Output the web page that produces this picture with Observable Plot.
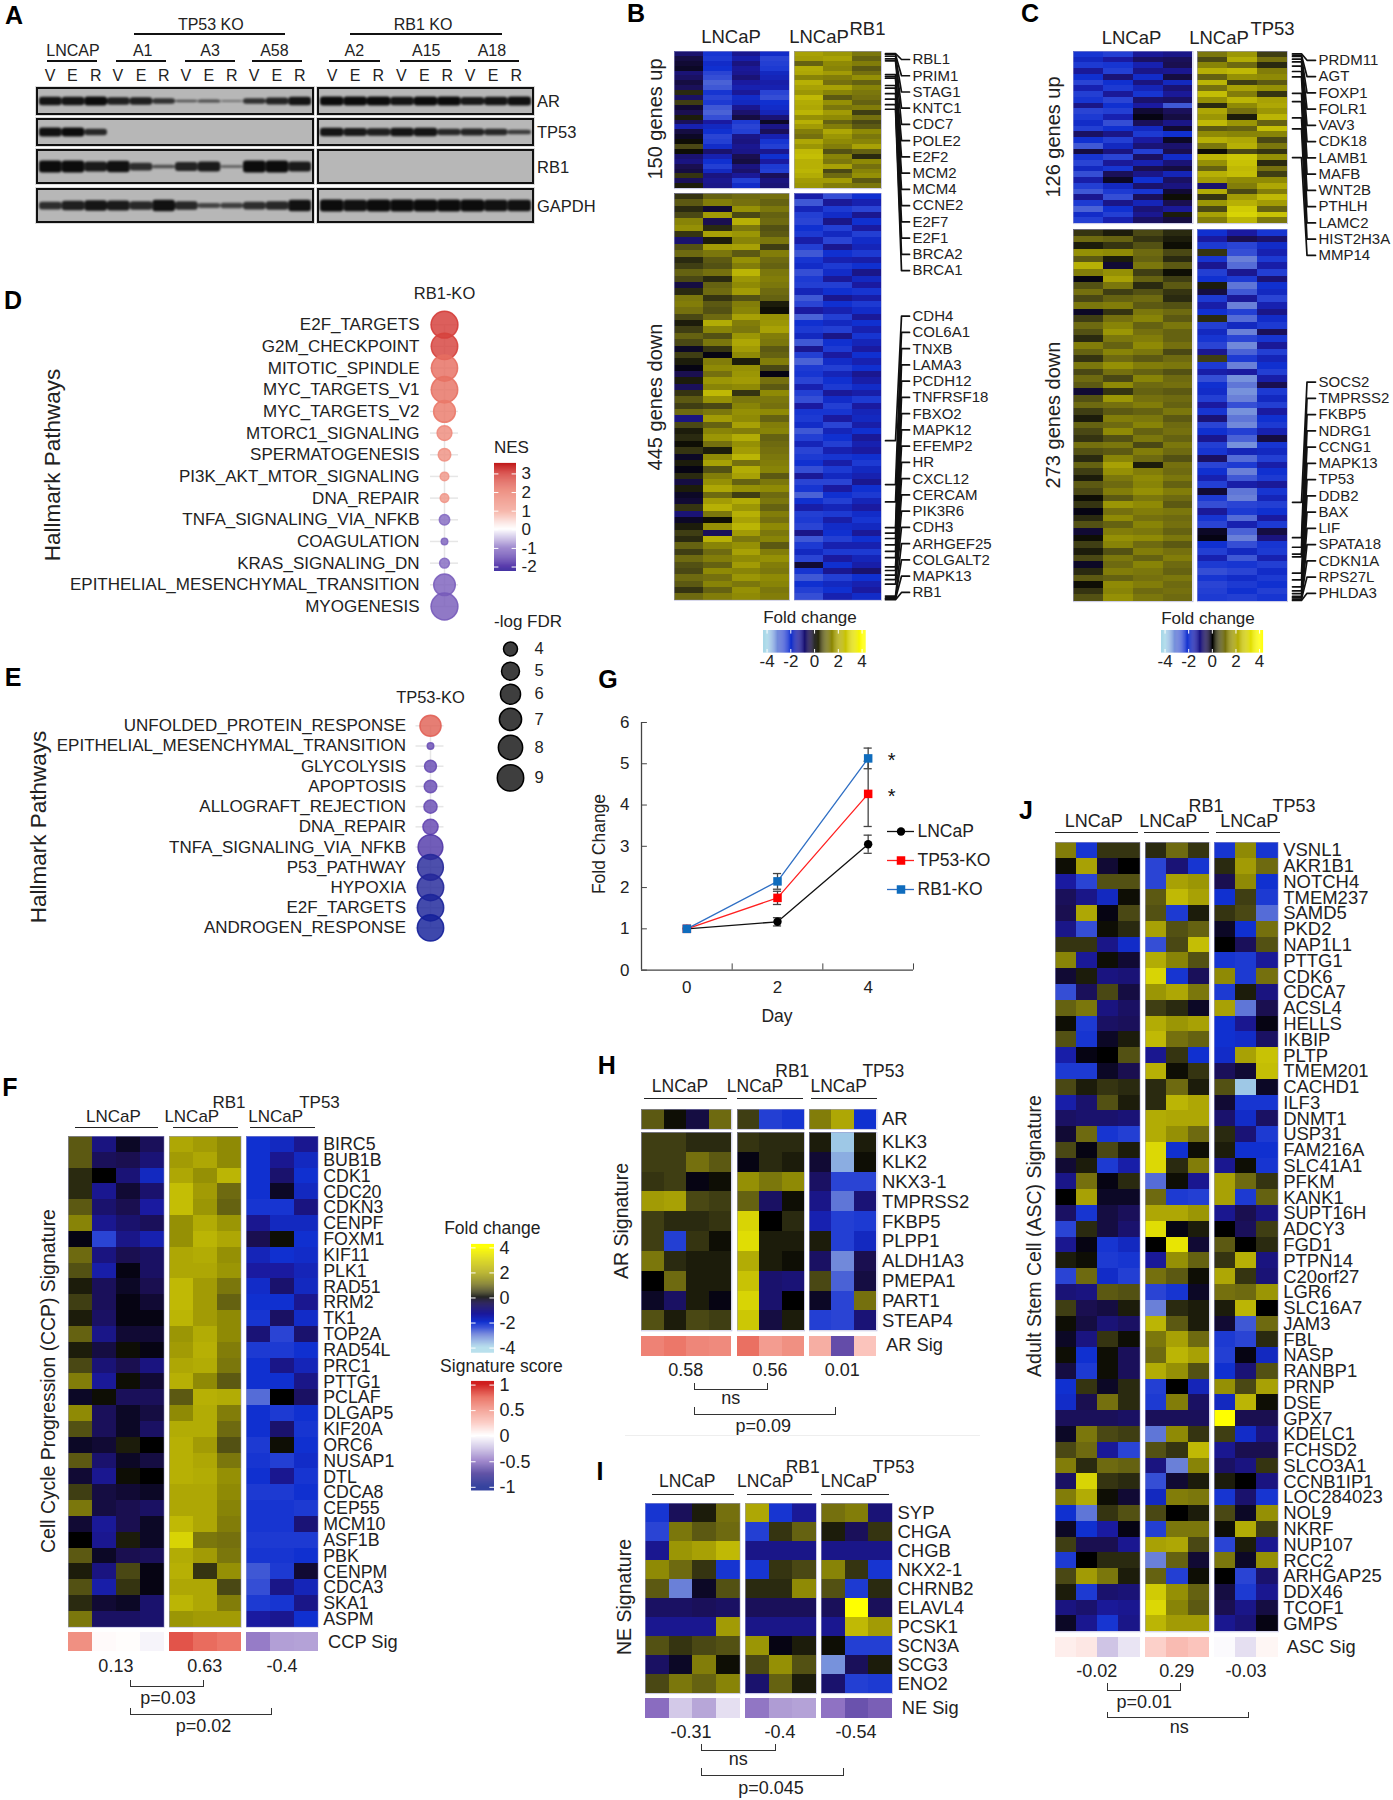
<!DOCTYPE html>
<html><head><meta charset="utf-8">
<style>html,body{margin:0;padding:0;background:#fff}#page{position:relative;width:1393px;height:1800px;overflow:hidden;background:#fff;font-family:"Liberation Sans",Arial,sans-serif}</style>
<script src="https://cdn.jsdelivr.net/npm/d3@7"></script>
<script src="https://cdn.jsdelivr.net/npm/@observablehq/plot@0.6"></script>
</head><body><div id="page"></div>
<script>
/* ---------- DATA ---------- */
const blotAR_L=[.9,.9,1,.8,.8,.6,.25,.35,.15,.6,.75,.9];
const blotAR_R=[1,1,1,.9,1,1,.85,.9,.95];
const blotTP53_L=[.95,1,.7,0,0,0,0,0,0,0,0,0];
const blotTP53_R=[.9,.85,.8,.9,.9,.7,.75,.7,.5];
const blotRB1_L=[1,1,.85,.95,.65,.3,.75,.85,.2,1,1,.85];
const blotRB1_R=[0,0,0,0,0,0,0,0,0];
const blotGAPDH_L=[.65,.8,.9,.85,.7,.95,.7,.4,.45,.65,.7,.95];
const blotGAPDH_R=[1,.95,1,1,1,1,1,.95,.95];

const dPathways=["E2F_TARGETS","G2M_CHECKPOINT","MITOTIC_SPINDLE","MYC_TARGETS_V1","MYC_TARGETS_V2","MTORC1_SIGNALING","SPERMATOGENESIS","PI3K_AKT_MTOR_SIGNALING","DNA_REPAIR","TNFA_SIGNALING_VIA_NFKB","COAGULATION","KRAS_SIGNALING_DN","EPITHELIAL_MESENCHYMAL_TRANSITION","MYOGENESIS"];
const dNES=[3,2.9,2.2,2.15,2,1.7,1.6,1.5,1.5,-1.1,-1.2,-1.1,-1.3,-1.4];
const dFDR=[9.2,9,8.9,9,6.8,4.2,3.5,2.2,2.2,2.8,1.5,2.6,6.7,9.2];
const ePathways=["UNFOLDED_PROTEIN_RESPONSE","EPITHELIAL_MESENCHYMAL_TRANSITION","GLYCOLYSIS","APOPTOSIS","ALLOGRAFT_REJECTION","DNA_REPAIR","TNFA_SIGNALING_VIA_NFKB","P53_PATHWAY","HYPOXIA","E2F_TARGETS","ANDROGEN_RESPONSE"];
const eNES=[2.4,-1.6,-1.7,-1.7,-1.7,-1.8,-2.1,-2.7,-2.8,-3,-3.2];
const eFDR=[6.5,1.5,3.3,3.5,3.7,4.3,8.2,8.7,9,9,9];

const gDays=[0,2,4];
const gLNCaP=[1,1.17,3.05], gLNCaPErr=[0,.1,.22];
const gTP53=[1,1.75,4.27], gTP53Err=[0,.16,.79];
const gRB1=[1,2.15,5.13], gRB1Err=[0,.19,.25];

const fGenes=["BIRC5","BUB1B","CDK1","CDC20","CDKN3","CENPF","FOXM1","KIF11","PLK1","RAD51","RRM2","TK1","TOP2A","RAD54L","PRC1","PTTG1","PCLAF","DLGAP5","KIF20A","ORC6","NUSAP1","DTL","CDCA8","CEP55","MCM10","ASF1B","PBK","CENPM","CDCA3","SKA1","ASPM"];
const fValues=[
[.8,-1,-.2,-.6,2,1.8,1.5,-2,-1.8,-1.2],[.8,-.6,-.5,-.9,1.8,2,1.5,-2,-1.2,-1.8],[.3,0,-.9,-1.8,2,1.6,2.3,-2,-.8,-2],[.3,-1.2,-.3,-.8,2.5,1.8,1,-2,-.2,-1.8],[.8,-.8,-.5,-1.4,2.5,1.7,.9,-2.1,-2.1,-1],
[1.4,-1.2,-.8,-.6,1.6,2.1,1.7,-1.2,-1.8,-1.8],[-.1,-2.4,-1.1,-1.6,1.6,2.3,2,-.5,.1,-2],[1,-1,-.5,-.7,2,2.1,1.6,-1.7,-2,-1.9],[.7,-1.5,-.1,-.7,2,2,1.7,-1.4,-1.4,-1.7],[.2,-.6,-.2,-.5,2.4,1.8,1.2,-1.9,-.8,-1.8],
[.5,-.6,-.1,-.3,2.4,1.8,.9,-2,-2,-1.2],[.2,-.7,-.1,-.1,2.3,1.8,1.5,-2.1,-.7,-1.9],[.9,-1.1,-.3,-.3,1.7,2.1,1.5,-.9,-2.4,-.8],[.2,-.4,.1,-.1,1.8,2.2,1.3,-2.2,-2.2,-2],[.6,-.9,-.5,-1,2,2.1,1.2,-2,-1.1,-1.7],
[1.3,-1.3,.1,-.3,2.2,1.5,.8,-2,-2,-1.1],[-.2,.1,-.6,-.6,.8,2.2,2.1,-2.8,0,-.7],[1.5,-.6,-.2,-.4,1.5,2.1,1.3,-2,-2.2,-2],[.7,-.6,-.2,-.7,2.1,2.1,1,-2,-.8,-2.1],[-.2,-.3,.2,0,2.2,1.8,.7,-2.2,.1,-2],
[.8,-.8,-.2,-.4,2.2,2,1.2,-2.1,-2.3,-1.9],[-.3,-1.2,.1,0,2.2,2.1,1.6,-2,-1.2,-2.1],[.5,-.4,-.3,-.2,2,2,1.5,-2.2,-2.2,-2],[1.2,-.4,-.5,-.7,2,2,1.4,-2.1,-2.1,-2.2],[-.3,-1.3,-.5,-.2,2.4,2,1.3,-2.1,-2.1,-.9],
[0,-1.2,.2,-.2,3,1.2,1.1,-2.2,-2.2,-2.2],[.8,-.2,-.5,-.6,2.1,1.8,1.2,-2.1,-2.1,-2],[.2,-1,.6,-.1,2.2,.4,1.6,-2.6,-2.2,-.3],[.7,-1.5,.4,-.1,2,2,.6,-2.5,-1.1,-1.7],[.3,-.3,-.2,-.8,2.3,2,1.3,-2.2,-2.1,-1.1],
[1.2,-.7,-.7,-.8,1.7,1.8,1.8,-1.4,-1.2,-2]];
const fSig=[.55,.02,.01,-.04,.82,.74,.68,-.45,-.34,-.33];

const hGenes=["AR","KLK3","KLK2","NKX3-1","TMPRSS2","FKBP5","PLPP1","ALDH1A3","PMEPA1","PART1","STEAP4"];
const hValues=[
[.8,.1,-.4,1,.5,-2.3,-2.1,1.3,2,-2],
[.5,.5,.3,.3,.4,.3,.3,.2,-3.8,.2],[.5,.5,1.1,.8,-.1,.3,.2,-.3,-3.5,.1],[.4,.5,-.1,.1,1.6,1.2,1.5,-.7,-2.4,-2.4],[1.8,1.9,.6,.5,.9,-.7,.1,-1.1,-2.9,-.9],[.5,.3,.3,.4,3,0,.3,-1.6,-2.3,-2.2],
[.5,-2.3,.4,.1,3.2,.2,.2,.2,-2.3,-1.8],[1.2,.3,.2,.2,2.1,.2,.1,-.7,-3.1,-.5],[0,1,.2,.2,2.6,-.8,-.9,.6,-2.7,-.4],[-.2,-.7,.2,-.1,3,-.8,0,-.2,-2.4,1.1],[.7,.2,.6,.5,2.7,-.4,.2,-2.3,-2.4,-.9]];
const hSig=[.62,.68,.6,.58,.72,.48,.55,.38,-.62,.25];

const iGenes=["SYP","CHGA","CHGB","NKX2-1","CHRNB2","ELAVL4","PCSK1","SCN3A","SCG3","ENO2"];
const iValues=[
[-2.1,-.6,.2,1.1,2,-2.1,-1.3,1.1,1.3,-.9],[-2.4,1.2,.8,1,-2.3,.4,.9,.2,-.6,.4],[-1.2,1.7,1.9,2.4,-1.1,-1.1,-1.1,-1.1,-1.1,-1.1],[1.5,1,.4,-2.1,-2.1,.4,.6,1.4,.4,-2.1],[.8,-3,-.2,.7,.3,.3,1.5,.7,-2.2,.3],
[-.7,-.7,-.6,-.7,-.6,-.6,-.6,-.6,4,-.6],[-1.2,-1.2,-1.2,1.8,-1.1,-1.1,-1.1,-1.2,2.4,1.8],[.7,.4,.6,.7,1.7,-.1,.2,.1,-2.3,-2.3],[-.7,-.2,1.3,.1,.6,1.6,.7,-3.2,-.6,.2],[.6,1.2,.9,1.4,-.8,.9,.2,-.8,-2.3,-2.2]];
const iSig=[-.5,-.2,-.32,-.12,-.47,-.35,-.33,-.48,-.6,-.55];

const jGenes=["VSNL1","AKR1B1","NOTCH4","TMEM237","SAMD5","PKD2","NAP1L1","PTTG1","CDK6","CDCA7","ACSL4","HELLS","IKBIP","PLTP","TMEM201","CACHD1","ILF3","DNMT1","USP31","FAM216A","SLC41A1","PFKM","KANK1","SUPT16H","ADCY3","FGD1","PTPN14","C20orf27","LGR6","SLC16A7","JAM3","FBL","NASP","RANBP1","PRNP","DSE","GPX7","KDELC1","FCHSD2","SLCO3A1","CCNB1IP1","LOC284023","NOL9","NKRF","NUP107","RCC2","ARHGAP25","DDX46","TCOF1","GMPS"];
const jValues=[
[1.3,-2.1,.4,.4,.3,1,.4,-2.1,1.5,-2.1],[.1,1.9,-.3,0,-2.4,-.9,-2.1,.3,1.8,1],[-1.4,-2.4,.7,.7,-2.4,1.9,1.7,-.5,1.5,-2],[-.6,-1.1,-1.8,.1,.8,2.4,1.9,-2,.5,-2.2],[-.5,2,-.1,.6,.7,-2.2,.2,.4,.6,-2.8],
[-1.1,-2.5,.1,.3,1.9,.7,.9,-.2,-2,1.1],[.4,.4,-1.1,-1.9,-2.5,.6,2.5,0,-.6,.7],[1.4,-1.3,.1,-.3,2.1,1.4,.7,-2.1,-2.2,-1.3],[-.3,.2,-1,-.9,3,-2.1,-.6,1.5,-2.2,1.1],[-2.5,-.6,.6,-.4,1.7,2,1.2,-2.2,.2,-1],
[.9,1.2,-1,-.7,.5,.3,-.2,1.9,-2.9,-.5],[.1,-2.2,-.7,-.6,2.1,1.7,1.9,-2,-1.2,-.1],[.7,-2.1,-.2,.2,2.4,1.1,.9,-2,-1.9,-.7],[-1.5,-.1,0,.7,-1.2,.4,-2,-1.9,1.9,2.6],[-2.2,-2.2,-.2,-.5,2.2,.1,.4,-.6,-.3,2.5],
[.6,.2,.4,.3,.3,1,.2,.7,-3.8,-.2],[-1.5,-.8,.7,.2,.3,2.3,2,-.3,-2.1,-2.1],[-.7,-.8,-.8,-.9,2.1,2,2,-.8,-1.9,-.7],[-.3,1,-2.1,-2.3,2.1,1.6,1,.3,-.9,-2.2],[.6,-.1,.6,.2,3.1,-2,.1,.2,-2,-2],
[-.3,.2,-2.2,-1.5,3.1,.3,1.3,-1.2,.1,-2.1],[-1.1,1.1,-.1,.3,-2.8,.1,-1.2,1.9,1,.4],[0,1.9,-.2,-.2,1,-2.2,-2.3,1.9,-2.2,.9],[-.7,-2.1,-.4,-.6,2,2,1.7,-1.2,-.5,-1],[-2.4,.3,-.4,-.8,3.2,-.1,.2,0,-.6,.5],
[-1.2,-.1,-2.1,-1.8,0,3.4,-.3,.8,0,.3],[.2,.1,-2.2,-2.1,-1.3,1.6,.9,.4,2.2,-1],[-2.4,1,-1.9,-2.3,1.1,.8,.1,2,.4,-.9],[-.9,-1,.8,.7,-2.4,-2.1,-.2,1.1,1,1.7],[.5,-.5,-.4,.2,-3,.3,.2,.2,2.3,0],
[.1,-.4,-.9,-.7,2.3,.8,.2,-.3,-2.6,1],[-.2,-1,.4,.1,1.2,1.9,1,-2.2,-2.4,.3],[.1,-2,.1,-.6,1,2.3,1.9,-2.3,-.1,-1.8],[-.4,-2.2,.1,-.6,2.1,1.6,.7,-2,-.9,.7],[-2,.4,-.2,.3,-2.3,0,-1.7,1.6,.6,1.9],
[-1.9,-.5,1.1,.3,-2.2,1.3,-.7,-1.8,2.3,.1],[-.6,-.6,-.6,-.7,-.6,-.6,-.6,4,-.5,-.5],[-.2,1.2,.6,.5,-2.9,1.5,.4,.5,-1.9,-1],[.6,1,-1.3,-2.4,.7,.4,2.4,-1.2,-.5,-.5],[1.3,.3,1,.9,-1,-3,1.4,-.7,-1,.4],
[-.7,3,.4,.3,-2.5,-.3,.2,.2,0,-1],[1.3,2.1,.1,-.3,-1.8,1.3,1.2,-2.1,-.8,-2.1],[-2,-2.9,.4,.7,.6,0,.2,.6,-.2,1.6],[-.2,-2,-1.4,-.1,-2.3,1.2,1.2,.1,2.1,.5],[.5,-.5,-.5,-1.2,1.9,2,.6,-2.4,.2,-1.2],
[-2.2,0,.3,.3,-3,.9,-.3,1.2,-.2,1.6],[.6,1.8,1.2,.2,.9,-2.3,.1,0,-2.4,-.8],[.2,-2.2,-.8,-.9,2.8,1.6,.9,-.4,-2.2,-1.2],[-1,-.8,-1.3,-1.2,3.1,1.4,.8,-.5,-1.1,-.4],[-.2,-1.2,-2.1,-1.1,2.3,1.8,1.8,-1.2,-.9,-.1]];
const jSig=[.07,.1,-.22,-.1,.2,.3,.25,-.02,-.12,.04];

const bUp=[
[-.8,-2.1,-1.2,-1.9,1.9,1.7,1.2],[-.4,-2.2,-1.5,-2.4,1.8,1.9,.9],[-.3,-1.9,-1,-2.3,.9,1.5,1.3],[-.2,-2,-1.3,-2.2,2.1,1.4,.8],[-.9,-2.4,-1.2,-1.8,2,1.8,1.1],[-.7,-2.5,-.9,-1.7,1.4,1.3,1.6],[-.4,-2.7,-1.4,-1.5,2.2,1.1,.9],
[-.6,-2.6,-1.6,-1.6,1.9,1.9,1.4],[.3,-2.1,-1.3,-2.4,1.7,1.4,1.2],[-.7,-2.4,-1.9,-2.5,2.4,.8,1.1],[.5,-2.2,-1.8,-2,2.1,1.6,.9],[-.3,-2.6,-1.2,-1.9,2,1.2,1.3],[-.5,-2.7,-.8,-1.7,2.3,1.8,.5],[.2,-2.5,-.4,-.9,1.6,1.5,1.1],
[-.6,-1.4,-2.2,-.2,2.2,.9,.6],[-1.6,-1.8,-2.4,-1.1,1.8,1.3,.8],[-.4,-2,-2.3,-.6,1.3,2,1.5],[-.2,-2.4,-1.1,-1.6,1.1,1.7,1.2],[.1,-2.3,-1,-2.1,2,1.5,1.4],[.6,-1.9,-1.2,-2.3,1.7,1.3,1.9],[.1,-.8,-1.1,-1.2,2.4,.7,.9],
[-.8,-1.6,-.5,-2,2.5,1.4,.3],[-1,-2,-.4,-1.4,2.2,1.2,1.5],[-.5,-2.3,-1,-2.2,2.2,1.9,1.1],[-.4,-1.8,-.8,-2.3,2.3,.6,1.4],[.4,-1,-1.3,-.6,2.1,1,1.6],[-.6,-1.2,-2.3,-1,1.8,1.8,.8],[.2,-1.1,-1.9,-.9,1.7,1.3,1.2]];
const bDown=[
[.4,.9,1,1.1,-1.5,-2.5,-2],[.8,1.3,1.1,.9,-2.6,-1.3,-1.6],[.3,-.3,1.6,1.2,-1.7,-2.2,-2.4],[.6,1.8,.6,.9,-2.3,-1.9,-1.2],[1.4,-.5,2.2,1,-2.4,-1.1,-2],[1.6,.3,1.2,.7,-2,-2.3,-1.4],[.4,1.9,1.7,.8,-2.2,-1.8,-2.3],
[-.8,.2,1.4,1.2,-1.5,-2.4,-1.9],[.7,1.8,1.9,.5,-2.3,-1.2,-1.7],[1,1.2,.8,1.3,-2.6,-2,-2.2],[.3,.8,1.6,1,-2.1,-1.6,-1.5],[.5,.7,1.3,.9,-1.9,-2.2,-2],[.9,1.1,2.3,1.2,-2.5,-1.9,-1.1],[.6,.3,1.7,1.3,-2.2,-1.3,-1.8],
[-.4,.9,1.5,1.2,-2.3,-2.3,-1.4],[.3,1,1.8,1,-1.7,-2,-2.1],[1.2,.4,.7,.9,-2.6,-1.2,-1.5],[1.3,.8,1.3,.2,-2.4,-2,-2.2],[1.1,.7,1.4,.1,-1.4,-1.6,-1.9],[.6,1,1.9,1.6,-2.7,-2.3,-1.3],[.2,2.1,1.3,1.7,-2,-1.8,-2],
[.5,1.4,1.2,1.9,-2.2,-2.3,-1.6],[.9,.7,1.7,1.3,-1.8,-1.1,-2.1],[.6,1.2,2,1.2,-2.6,-2,-1.7],[-.2,.4,1.8,.8,-1.2,-2.2,-1.4],[.5,-.1,1.5,.9,-2.3,-1.4,-2],[.2,1.3,.2,1.3,-2.7,-1.9,-1.6],[-.1,1.5,1.6,.6,-2.2,-2.3,-2],
[-.5,1.1,1.7,-.1,-2.1,-1.7,-1.2],[.2,1.7,1.8,1.1,-2.4,-2,-1.5],[-.6,1.4,1.5,.8,-1.6,-2.2,-1.9],[.4,2.4,.4,1.5,-2.3,-1.3,-1.5],[.8,1.6,1.2,1.2,-2.5,-1.9,-2.2],[.5,.6,1.4,1.1,-1.4,-2.3,-1.4],[1,1.2,1.6,1.5,-2.1,-2.1,-1.7],
[-1,1.8,1.5,.9,-2.2,-1.4,-1.8],[.6,.9,1.9,1.3,-1.9,-2.4,-1.5],[.2,1.4,1.3,1.4,-2.6,-1.7,-2],[.3,1.7,2.1,.9,-2.3,-2,-1.3],[.1,1.1,1.6,1,-1.7,-2.3,-1.6],[.4,.2,1.8,1.1,-2.4,-1.6,-1.4],[-.2,1.5,2.3,1.2,-2.2,-2.1,-2],
[.2,1.9,1.1,1.3,-2,-1.5,-2.2],[-.1,.7,2.1,1.4,-2.5,-2.2,-1.8],[.3,1.3,1.9,.8,-1.3,-1.8,-1.6],[-.4,1.6,.9,1.2,-2.4,-2.4,-1.2],[.2,2,1.6,1.5,-2.1,-1.4,-2],[-.2,1,.5,1,-2.7,-2,-2.2],[-.3,1.8,2.1,1.2,-2,-2.3,-1.7],
[.4,2.2,1.7,.9,-1.5,-1.7,-1.4],[-.9,1.2,2.2,1.3,-2.3,-2.2,-1.9],[-.2,.1,1.9,1.1,-2.2,-1.5,-2.1],[.2,1.6,2.3,1.5,-2.4,-1.9,-1.8],[.5,-.6,1.8,1.2,-1.1,-2,-1.3],[.3,2.2,1.2,1.4,-2.6,-2.3,-2],[.9,1.4,1.6,.8,-2.2,-1.6,-1.6],
[.5,1,1.9,1.3,-1.8,-2.2,-2.2],[1,1.3,1.5,1.6,-2.4,-1.4,-1.7],[.7,.9,1.8,1.3,-.3,-2,-1.5],[.6,1.5,1.4,1.2,-2.1,-1.2,-.8],[1,1.1,1.7,1.5,-2.6,-2.3,-2],[.8,1.4,1.2,1.4,-2,-1.8,-1.6],[.4,.9,1.6,1.2,-2.3,-2,-1.4],[1,1.3,1.5,1.3,-2.5,-1.6,-1.9]];
const cUp=[
[-2.1,-2.3,-1.3,-1.1,1.2,1.7,.5],[-1.8,-1.4,-.7,-.6,.6,2.1,1.1],[-2.2,-2.1,-1.6,-.5,1.4,1,.3],[-1.3,-2.3,-1.1,-1.2,2.2,2.4,1.3],[-2,-.9,-1.9,-.4,.9,1.6,1.5],[-2.4,-2,-1,-1.8,2.3,.5,.8],[-1.6,-2.2,-1.7,-.9,1.1,1.9,1.6],
[-2.3,-1.3,-2.1,-1.3,2.5,1.3,.4],[-2.1,-2.4,-.8,-.7,1.6,2.3,1.9],[-1.1,-2,-1.4,-2.6,.3,1.5,2],[-2.4,-2.3,-.3,-.6,2,1.1,1.7],[-2.2,-1.6,-.1,-.4,1.7,.2,2.3],[-1.9,-2.5,-.6,-1.1,2.4,1.7,.9],[-2.3,-2,-1.8,-.3,.8,.9,2.5],
[-.7,-1.1,-2.2,-2,1.5,1.4,1.4],[-2,-2.3,-1.4,-.2,2.2,2,.6],[-2.6,-1.8,-.9,-.8,1.2,2.2,1.2],[-.4,-1,-2.3,-.5,.1,.6,.4],[-2.1,-2.4,-.7,-1.9,2.3,2.7,1.6],[-2.4,-1.3,-1.6,-.9,1.6,2.6,.3],[-1.8,-2.1,-.5,-.4,.9,2.4,1.1],
[-2.5,-.6,-1.1,-1.7,2.2,2.5,.5],[-1.5,-.2,-2,-.7,1.8,1.5,1.5],[-2.3,-1.8,-.8,-1,-.8,1.3,2],[-2.6,-2.2,-2.1,-.3,2.1,.6,1.3],[-1.2,-2.5,-.6,.1,.4,1.8,2.4],[-2.2,-1.1,-1.7,-.5,1.7,2.2,1.8],[-2.7,-2,-.9,-1.3,.6,2.8,.9],[-1.9,-2.3,-1.2,.2,1.9,3,2.6],[-2.3,-1.6,-.7,-.4,1.3,2.3,1.2]];
const cDown=[
[.4,.2,.6,.3,-2,-1.4,-2.1],[1,.9,.4,.2,-1.4,-.5,-.8],[.2,.4,.7,.1,-2.2,-2.4,-1.9],[1.6,1.5,1,.6,.4,-2.5,-1.6],[.8,.2,.9,.3,-2.1,-3,-2.2],[2.2,-.3,1.2,.8,-1.2,-2.8,-1.5],[1.3,1.6,.5,.1,-2.3,-1.2,-2.3],
[-.1,1.9,.9,.5,-2,-2.2,-.9],[.7,1.2,.3,.8,.2,-2.9,-2],[1.1,.5,.7,.4,-.4,-2.6,-1.8],[.6,.9,1,.3,-2.2,-1.3,-2.4],[1.2,1.3,.8,.7,-1.5,-3,-1.6],[-.2,.4,1.2,1,-2,-2.3,-1.1],[.5,1.1,1.4,.8,.3,-2.8,-1.9],
[1,1.4,.9,1.2,-2.3,-1.8,-2.2],[.7,1.7,1.1,.9,-1.8,-3,-.6],[.3,1.2,1.3,.9,-2.1,-2.4,-2.1],[1.3,.9,1.5,1.1,-2.4,-3.1,-1.3],[.9,1.4,1.2,.6,-1.2,-2.7,-2.3],[.4,1,.8,1,.5,-2.2,-1.7],[1.2,1.6,1.3,1.2,-2.2,-3,-2],
[.6,1.1,.9,.7,-1.5,-1.4,-2.3],[1,.6,1.4,1,-2.5,-3.2,-1.5],[.8,1.5,1,1.1,-2,-2.9,-.5],[-.3,.4,.9,.8,-1.9,-3.2,-2.2],[.7,1.7,1.1,1,-2.3,-3,-1.8],[1,1.1,1.3,.9,-1.4,-2.5,-2.3],[.5,.8,.9,1.2,-2.1,-3.2,-1.4],
[.2,1.3,1.2,.8,-.9,-2.9,-2],[.9,1,1.4,1,-2.4,-3.1,-2.2],[.6,1.5,.9,1.1,-2,-2.3,-1.6],[.4,.7,1.2,.9,-1.2,-2.7,-.4],[1.1,1.2,.6,1.2,-2.3,-3.2,-2.1],[.7,.8,1.3,1,-2.1,-1.7,-1.8],[.3,1.4,1,.7,-.7,-2.8,-2.3],
[.9,1.9,.2,1.1,-2.4,-2.2,-1.5],[.5,1.6,1.3,1,-2,-3,-2],[.2,1.2,1.5,1.2,-1.6,-2.6,-2.2],[.8,1,1.4,.9,-2.3,-1.5,-1.3],[.6,1.3,1.6,1.3,-.3,-2.9,-2.1],[.1,.8,1.2,1,-2.2,-3,-1.7],[.4,1.7,1.5,.8,-2.5,-2.4,-2.3],
[-.1,1.1,1.3,1.2,-1.3,-2.2,-2],[.3,1.5,1.1,1,-2.1,-2.8,-1.4],[.7,.9,1.4,1.1,-2.4,-1.6,-2.2],[-.3,1.3,1.2,.9,-.2,-2.7,-.4],[.1,1.6,1.5,1.2,-.1,-3,-1],[.5,1.4,1,.8,-2,-2.5,-2.1],[.2,.7,1.3,1.1,-2.3,-1.8,-2.2],
[.6,1.2,.9,1.3,-1.6,-2.6,-1.6],[-.2,1,1.4,1,-2.2,-2.1,-2.3],[.3,1.3,1.2,.9,-2.5,-2.4,-1.9],[.8,.9,1.1,1.2,-2.1,-1.9,-2.2],[.1,1.5,1.3,1,-2.4,-2.2,-2],[.4,1.4,1,1.1,-2.3,-2,-2.3],[.7,1.6,1.2,1,-2.2,-2.3,-2.1]];

const bUpGenes=["RBL1","PRIM1","STAG1","KNTC1","CDC7","POLE2","E2F2","MCM2","MCM4","CCNE2","E2F7","E2F1","BRCA2","BRCA1"];
const bUpRows=[2,3,5,8,10,25,27,29,37,40,46,52,58,63];
const bDownGenes=["CDH4","COL6A1","TNXB","LAMA3","PCDH12","TNFRSF18","FBXO2","MAPK12","EFEMP2","HR","CXCL12","CERCAM","PIK3R6","CDH3","ARHGEF25","COLGALT2","MAPK13","RB1"];
const bDownRows=[270,318,337,365,371,377,384,391,398,408,412,417,422,427,440,442,443,444];
const cUpGenes=["PRDM11","AGT","FOXP1","FOLR1","VAV3","CDK18","LAMB1","MAFB","WNT2B","PTHLH","LAMC2","HIST2H3A","MMP14"];
const cUpRows=[1,2,3,5,7,10,14,18,30,36,48,56,77];
const cDownGenes=["SOCS2","TMPRSS2","FKBP5","NDRG1","CCNG1","MAPK13","TP53","DDB2","BAX","LIF","SPATA18","CDKN1A","RPS27L","PHLDA3"];
const cDownRows=[200,226,233,238,240,252,257,262,265,267,269,270,271,272];

/* ---------- SCALES ---------- */
const fcColor={type:"linear",clamp:true,interpolate:"rgb",
 domain:[-4,-3.8,-3,-2.4,-2,-1.4,-1,-.5,-.2,0,.3,.6,1,1.5,2,2.5,3,4],
 range:["#a8d8e8","#9ec8e6","#6a80d8","#2a44d4","#1030d0","#1a1aa0","#1a1480","#1a0f50","#0c0826","#000000","#2a2a10","#4a4814","#6e6a10","#8f8a05","#aea705","#c4be05","#d8d405","#ffff00"]};
const sigColor={type:"linear",clamp:true,interpolate:"rgb",
 domain:[-1,-.75,-.5,-.25,0,.25,.5,.75,1],
 range:["#0a1a8a","#3a2a90","#8a6cc0","#c8bce2","#ffffff","#fbc4bc","#f2998c","#e96a5c","#d01c1c"]};
const nesColor={type:"linear",clamp:true,interpolate:"rgb",
 domain:[-3.2,-2.6,-2,-1,0,1,2,3,3.5],
 range:["#14209a","#2a2a9a","#5a3cac","#8a70c4","#ffffff","#f6b4a8","#ea7a6a","#d43c38","#c01818"]};

/* ---------- HELPERS ---------- */
const page=document.getElementById("page");
const FONT='"Liberation Sans",Arial,sans-serif';
function put(svg,left,top,extra={}){
  Object.assign(svg.style,{position:"absolute",left:left+"px",top:top+"px",background:"transparent",overflow:"visible",maxWidth:"none",fontFamily:FONT,color:"#222"},extra);
  page.appendChild(svg);return svg;
}
function T(s,x,y,o={}){
  const e=document.createElement("div");e.textContent=s;
  const tx=o.start?"0":"-50%";
  Object.assign(e.style,{position:"absolute",left:x+"px",top:y+"px",fontSize:(o.size||15)+"px",fontWeight:o.bold?"700":"400",color:o.color||"#222",whiteSpace:"nowrap",lineHeight:"1",transform:`translate(${tx},-50%)${o.rot?" rotate(-90deg)":""}`});
  page.appendChild(e);return e;
}
function L(x1,x2,y,c="#222",h=1.4){const e=document.createElement("div");Object.assign(e.style,{position:"absolute",left:x1+"px",top:(y-h/2)+"px",width:(x2-x1)+"px",height:h+"px",background:c});page.appendChild(e);}
function B(x1,x2,y1,y2){const e=document.createElement("div");Object.assign(e.style,{position:"absolute",left:x1+"px",top:y1+"px",width:(x2-x1)+"px",height:(y2-y1)+"px",borderLeft:"1.2px solid #333",borderRight:"1.2px solid #333",borderBottom:"1.2px solid #333",boxSizing:"border-box"});page.appendChild(e);}

function heat(rows,a,b,x0,x1,top,bottom,o={}){
  const ids=o.genes||d3.range(rows.length);
  const data=rows.flatMap((r,i)=>r.slice(a,b).map((v,j)=>({row:ids[i],col:j,v})));
  const lw=o.genes?(o.labelW||130):0;
  const marks=[Plot.cell(data,{x:"col",y:"row",fill:"v",shapeRendering:"crispEdges"})];
  if(o.frame!==false)marks.push(Plot.frame({stroke:"#9a9ad0",strokeOpacity:.55,strokeWidth:1}));
  if(o.genes)marks.push(Plot.axisY({anchor:"right",tickSize:0,tickPadding:o.pad||5,fontSize:o.size||17.5,label:null}));
  return put(Plot.plot({width:x1-x0+lw,height:bottom-top,marginLeft:0,marginTop:0,marginBottom:0,marginRight:lw,
    x:{type:"band",domain:d3.range(b-a),padding:0,round:false,axis:null},
    y:{type:"band",domain:ids,padding:0,round:false,axis:null},
    color:o.color||fcColor,marks}),x0,top);
}
function sigRow(vals,a,b,x0,x1,top,bottom){
  return heat([vals],a,b,x0,x1,top,bottom,{color:sigColor,frame:false});
}
function barH(x0,x1,top,bottom,lo,hi,ticks,color,size=17){
  const st=(hi-lo)/110,lev=d3.range(lo,hi,st);
  return put(Plot.plot({width:x1-x0,height:bottom-top+24,marginLeft:0,marginRight:0,marginTop:0,marginBottom:24,
    x:{domain:[lo,hi]},y:{domain:[0,1],axis:null},color,
    marks:[Plot.rect(lev,{x1:d=>d,x2:d=>d+st*1.1,y1:0,y2:1,fill:d=>d}),
      Plot.ruleX(ticks,{y1:0,y2:.16,stroke:"#fff"}),Plot.ruleX(ticks,{y1:.84,y2:1,stroke:"#fff"}),
      Plot.axisX({ticks,tickSize:0,tickPadding:2,fontSize:size,tickFormat:String,label:null})]}),x0,top);
}
function barV(x0,x1,top,bottom,lo,hi,ticks,color,size=16){
  const st=(hi-lo)/110,lev=d3.range(lo,hi,st);
  return put(Plot.plot({width:x1-x0+50,height:bottom-top,marginLeft:0,marginRight:50,marginTop:0,marginBottom:0,
    x:{domain:[0,1],axis:null},y:{domain:[lo,hi],axis:null},color,
    marks:[Plot.rect(lev,{x1:0,x2:1,y1:d=>d,y2:d=>d+st*1.1,fill:d=>d}),
      Plot.ruleY(ticks,{x1:0,x2:.2,stroke:"#fff"}),Plot.ruleY(ticks,{x1:.8,x2:1,stroke:"#fff"}),
      Plot.axisY({anchor:"right",ticks,tickSize:0,tickPadding:5,fontSize:size,tickFormat:String,label:null})]}),x0,top);
}
function rug(genes,rows,n,bTop,bBot,lab0,step,xs){
  const pts=genes.flatMap((g,i)=>{const ry=bTop+(rows[i]+.5)/n*(bBot-bTop),ly=lab0+i*step;
    return [[xs[0],ry],[xs[1],ry],[xs[2],ly],[xs[3],ly]].map(p=>({g,x:p[0],y:p[1]}));});
  const lab=genes.map((g,i)=>({g,x:xs[3]+3,y:lab0+i*step}));
  return put(Plot.plot({width:1393,height:1800,margin:0,x:{type:"identity",axis:null},y:{type:"identity",axis:null},
    marks:[Plot.line(pts,{x:"x",y:"y",z:"g",stroke:"#111",strokeWidth:1.7,curve:"linear"}),
      Plot.text(lab,{x:"x",y:"y",text:"g",textAnchor:"start",fontSize:15,fill:"#222"})]}),0,0);
}
function dotPanel(names,nes,fdr,ko,left,right,firstY,lastY,svgTop,padLeftLabel){
  const data=names.map((n,i)=>({n,nes:nes[i],fdr:fdr[i]}));
  return put(Plot.plot({width:right+40,height:lastY-svgTop+24,marginLeft:left,marginRight:40,marginTop:firstY-svgTop,marginBottom:24,
    x:{type:"point",domain:[ko],axis:null},y:{type:"point",domain:names,padding:0,round:false,axis:null},
    r:{type:"linear",domain:[1,4,5,9],range:[2.5,7,9,13.2],clamp:false},color:nesColor,
    marks:[Plot.ruleY(names,{stroke:"#e6e6e6",strokeWidth:1.5}),Plot.ruleX([ko],{stroke:"#e6e6e6",strokeWidth:1.5}),
      Plot.dot(data,{x:()=>ko,y:"n",r:"fdr",fill:"nes",stroke:"nes",fillOpacity:.82,strokeOpacity:.9,sort:null}),
      Plot.axisY({anchor:"left",tickSize:0,tickPadding:padLeftLabel,fontSize:17,label:null}),
      Plot.axisX({anchor:"top",tickSize:0,tickPadding:firstY-svgTop-18,fontSize:16.5,label:null})]}),0,svgTop);
}
function blot(vals,x0,x1,top,bottom){
  const back=document.createElement("div");
  Object.assign(back.style,{position:"absolute",left:x0+"px",top:top+"px",width:(x1-x0)+"px",height:(bottom-top)+"px",background:"#b7b7b7",border:"2.6px solid #111",outline:"1px solid #ddd",boxSizing:"border-box"});
  page.appendChild(back);
  const data=vals.map((v,i)=>({i,v}));
  put(Plot.plot({width:x1-x0-6,height:bottom-top-4,margin:0,x:{type:"band",domain:d3.range(vals.length),padding:0,round:false,axis:null},y:{domain:[-2.6,2.6],axis:null},
    marks:[Plot.barY(data,{x:"i",y1:d=>-d.v,y2:d=>d.v,fill:"#0c0c0c",fillOpacity:d=>d.v>0?.45+.55*d.v:0,rx:3})]}),x0+3,top+2,{filter:"blur(1.3px)"});
}

/* ---------- PANEL A ---------- */
T("A",14,15,{size:25,bold:true,color:"#000"});
const bands=[[blotAR_L,blotAR_R,87,115,"AR"],[blotTP53_L,blotTP53_R,118,146,"TP53"],[blotRB1_L,blotRB1_R,149,184,"RB1"],[blotGAPDH_L,blotGAPDH_R,188,223,"GAPDH"]];
for(const [l,r,t,b,n] of bands){blot(l,35.6,313.6,t,b);blot(r,317,534,t,b);T(n,537,(t+b)/2,{start:true,size:16.5});}
const laneL=[50.2,72.4,95.7,117.8,141.2,163.7,185.8,208.8,231.7,254.2,276.8,299.7],laneR=[332.1,355.1,378.4,401.3,424.3,447.2,470.1,493.1,516.4];
[...laneL,...laneR].forEach((x,i)=>T("VER"[(i<12?i:i-12)%3],x,76,{size:16}));
T("TP53 KO",210.8,25,{size:16});L(133.6,285.5,34.3,"#111",1.8);
T("RB1 KO",423,25,{size:16});L(350,502,34.3,"#111",1.8);
[["LNCAP",73,46.7,96.9],["A1",142.7,115.5,166],["A3",210,184.7,235.3],["A58",274.4,251.5,302],["A2",354.3,329,379.6],["A15",426.2,400,450.8],["A18",491.9,468,518.8]].forEach(([s,c,a,b])=>{T(s,c,50.7,{size:16});L(a,b,61.3,"#111",1.8);});

/* ---------- PANEL B ---------- */
T("B",636,13,{size:25,bold:true,color:"#000"});
T("LNCaP",731,37,{size:18.5});T("LNCaP",819,37,{size:18.5});T("RB1",867.5,28.6,{size:18.5});
T("150 genes up",655,119,{size:20,rot:true});T("445 genes down",655,397,{size:20,rot:true});
heat(bUp,0,4,673.5,788.5,50.7,187.8);heat(bUp,4,7,794,881,50.7,187.8);
heat(bDown,0,4,673.5,788.5,193,599.7);heat(bDown,4,7,794,881,193,599.7);
rug(bUpGenes,bUpRows,150,50.7,187.8,59,16.24,[885,895,901,909]);
rug(bDownGenes,bDownRows,445,193,599.7,315.7,16.25,[885,895,901,909]);
T("Fold change",810,617,{size:17});
barH(762.5,865,630,652.6,-4.3,4.33,[-4,-2,0,2,4],fcColor);

/* ---------- PANEL C ---------- */
T("C",1030,13,{size:25,bold:true,color:"#000"});
T("LNCaP",1131.5,37.7,{size:18.5});T("LNCaP",1219,37.7,{size:18.5});T("TP53",1272.5,28.6,{size:18.5});
T("126 genes up",1052.5,136.6,{size:20,rot:true});T("273 genes down",1052.5,414.6,{size:20,rot:true});
heat(cUp,0,4,1072.5,1192,51.2,223.3);heat(cUp,4,7,1197,1287,51.2,223.3);
heat(cDown,0,4,1072.5,1192,228.5,600.6);heat(cDown,4,7,1197,1287,228.5,600.6);
rug(cUpGenes,cUpRows,126,51.2,223.3,59.8,16.26,[1292,1301,1306.5,1315]);
rug(cDownGenes,cDownRows,273,228.5,600.6,381.6,16.25,[1292,1301,1306.5,1315]);
T("Fold change",1208,618,{size:17});
barH(1161,1263,630,652.6,-4.3,4.33,[-4,-2,0,2,4],fcColor);

/* ---------- PANELS D, E ---------- */
T("D",13,300,{size:25,bold:true,color:"#000"});
T("Hallmark Pathways",53.4,465,{size:22.5,rot:true});
dotPanel(dPathways,dNES,dFDR,"RB1-KO",430,458,324.2,606,280,11);
T("E",13,677,{size:25,bold:true,color:"#000"});
T("Hallmark Pathways",38.7,826.6,{size:22.5,rot:true});
dotPanel(ePathways,eNES,eFDR,"TP53-KO",415.5,443.5,725.3,927.4,685,10);
T("NES",494,447,{start:true,size:17});
barV(494,516,463,571,-2.24,3.56,[-2,-1,0,1,2,3],nesColor,17);
T("-log FDR",494,621,{start:true,size:17});
{ const fdrLevels=[4,5,6,7,8,9];
  put(Plot.plot({width:70,height:170,margin:0,marginRight:0,
    x:{type:"point",domain:["s"],range:[16,16],axis:null},
    y:{type:"linear",domain:fdrLevels,range:[648.6,670.7,693.7,718.8,747,777.4].map(v=>v-625),axis:null},
    r:{type:"linear",domain:[1,4,5,9],range:[2.5,7,9,13.2]},
    marks:[Plot.dot(fdrLevels,{x:()=>"s",y:d=>d,r:d=>d,fill:"#1c1c1c",fillOpacity:.85,stroke:"#000"}),
      Plot.axisY({anchor:"right",ticks:fdrLevels,tickSize:0,fontSize:16.5,tickPadding:-25.5,tickFormat:String,label:null,textAnchor:"middle"})]}),494,625);
}

/* ---------- PANEL G ---------- */
T("G",608,679,{size:25,bold:true,color:"#000"});
{ const series=[["LNCaP",gLNCaP,gLNCaPErr,"#111"],["TP53-KO",gTP53,gTP53Err,"#ff2020"],["RB1-KO",gRB1,gRB1Err,"#2f6fc4"]];
  const pts=series.flatMap(([s,v,e,c])=>gDays.map((d,i)=>({s,d,v:v[i],e:e[i],c})));
  const err=pts.filter(p=>p.e>0);
  put(Plot.plot({width:272+42+10,height:247.6+12+48,marginLeft:42,marginRight:10,marginTop:12,marginBottom:48,
    x:{domain:[-1,5]},y:{domain:[0,6]},
    marks:[
      Plot.ruleX([-1],{stroke:"#444",strokeWidth:1.3}),Plot.ruleY([0],{stroke:"#444",strokeWidth:1.3}),
      Plot.ruleY(d3.range(0,7),{x1:-1,x2:-.87,stroke:"#444"}),Plot.ruleX([1,3,5],{y1:0,y2:.15,stroke:"#444"}),
      Plot.ruleX(err,{x:"d",y1:d=>d.v-d.e,y2:d=>d.v+d.e,stroke:"#444",strokeWidth:1.3}),
      Plot.ruleY(err,{y:d=>d.v+d.e,x1:d=>d.d-.09,x2:d=>d.d+.09,stroke:"#444",strokeWidth:1.3}),
      Plot.ruleY(err,{y:d=>d.v-d.e,x1:d=>d.d-.09,x2:d=>d.d+.09,stroke:"#444",strokeWidth:1.3}),
      Plot.line(pts,{x:"d",y:"v",z:"s",stroke:"c",strokeWidth:1.3}),
      Plot.dot(pts.filter(p=>p.s==="LNCaP"),{x:"d",y:"v",r:4.2,fill:"#000",symbol:"circle"}),
      Plot.dot(pts.filter(p=>p.s==="TP53-KO"),{x:"d",y:"v",r:4.8,fill:"#ff0000",symbol:"square"}),
      Plot.dot(pts.filter(p=>p.s==="RB1-KO"),{x:"d",y:"v",r:4.8,fill:"#0f6cbd",symbol:"square"}),
      Plot.text([{d:4.52,v:5.08},{d:4.52,v:4.2}],{x:"d",y:"v",text:()=>"*",fontSize:20,fill:"#111"}),
      Plot.axisY({ticks:d3.range(0,7),tickSize:0,tickPadding:12,fontSize:17,tickFormat:String,label:null}),
      Plot.axisX({ticks:gDays,tickSize:0,tickPadding:11,fontSize:17,tickFormat:String,label:null})]}),640.7-42,721.7-12);
  T("Fold Change",600,844.3,{size:17.5,rot:true});T("Day",777,1016.7,{size:17.5});
  const names=series.map(s=>s[0]);
  put(Plot.plot({width:130,height:86,margin:0,marginTop:14,marginBottom:14,
    x:{domain:[0,130],range:[0,130],axis:null},y:{type:"point",domain:names,padding:0,round:false,axis:null},
    marks:[Plot.ruleY(series,{y:d=>d[0],x1:0,x2:27,stroke:d=>d[3],strokeWidth:1.3}),
      Plot.dot(series.filter(d=>d[0]==="LNCaP"),{x:13.5,y:d=>d[0],r:4.2,fill:"#000",symbol:"circle"}),
      Plot.dot(series.filter(d=>d[0]==="TP53-KO"),{x:13.5,y:d=>d[0],r:4.8,fill:"#ff0000",symbol:"square"}),
      Plot.dot(series.filter(d=>d[0]==="RB1-KO"),{x:13.5,y:d=>d[0],r:4.8,fill:"#0f6cbd",symbol:"square"}),
      Plot.text(names,{x:30,y:d=>d,text:d=>d,textAnchor:"start",fontSize:17.5,fill:"#222"})]}),886.7,830.7-14);
}

/* ---------- PANEL F ---------- */
T("F",10,1087,{size:25,bold:true,color:"#000"});
T("Cell Cycle Progression (CCP) Signature",48.6,1381,{size:19.4,rot:true});
T("LNCaP",113.5,1115.7,{size:17});L(75,158,1127.5);
T("LNCaP",191.8,1115.7,{size:17});T("RB1",229,1101.5,{size:17});L(173,238.4,1127.5);
T("LNCaP",275.6,1115.7,{size:17});T("TP53",319.5,1101.5,{size:17});L(250,315,1127.5);
heat(fValues,0,4,68.4,164,1135.5,1626.3);heat(fValues,4,7,169.2,240.8,1135.5,1626.3);
heat(fValues,7,10,246.3,318,1135.5,1626.3,{genes:fGenes,size:17.8});
sigRow(fSig,0,4,68.4,164,1632,1651.3);sigRow(fSig,4,7,169.2,240.8,1632,1651.3);sigRow(fSig,7,10,246.3,318,1632,1651.3);
T("CCP Sig",328,1642,{start:true,size:18.3});
T("0.13",115.9,1666.4,{size:18});T("0.63",204.8,1666.4,{size:18});T("-0.4",282,1666.4,{size:18});
B(129.7,204.4,1679.6,1686.7);T("p=0.03",168,1697.6,{size:18});
B(129.7,272.4,1708,1715);T("p=0.02",203.6,1726.3,{size:18});
T("Fold change",492.3,1229,{size:17.5});
barV(471.3,494.3,1244,1352.6,-4.4,4.27,[-4,-2,0,2,4],fcColor,18);
T("Signature score",501.4,1367,{size:17.5});
barV(471.3,494.3,1381,1490.4,-1.07,1.07,[-1,-.5,0,.5,1],sigColor,18);

/* ---------- PANEL H ---------- */
T("H",606.7,1065,{size:25,bold:true,color:"#000"});
T("AR Signature",621.7,1220.8,{size:19.5,rot:true});
T("LNCaP",680,1087,{size:17.5});L(644.3,727,1098.6);
T("LNCaP",755,1087,{size:17.5});T("RB1",792.3,1072,{size:17.5});L(736.7,802.7,1098.6);
T("LNCaP",838.7,1087,{size:17.5});T("TP53",883.3,1072,{size:17.5});L(810.7,876.7,1098.6);
{ const top=hValues.slice(0,1),rest=hValues.slice(1),g0=hGenes.slice(0,1),g1=hGenes.slice(1);
  heat(top,0,4,640.7,731,1108.8,1128.7);heat(top,4,7,736.7,803.7,1108.8,1128.7);heat(top,7,10,809.3,876.7,1108.8,1128.7,{genes:g0,size:18.5});
  heat(rest,0,4,640.7,731,1131.6,1329.9);heat(rest,4,7,736.7,803.7,1131.6,1329.9);heat(rest,7,10,809.3,876.7,1131.6,1329.9,{genes:g1,size:18.5});
}
sigRow(hSig,0,4,640.7,731,1335.7,1355.6);sigRow(hSig,4,7,736.7,803.7,1335.7,1355.6);sigRow(hSig,7,10,809.3,876.7,1335.7,1355.6);
T("AR Sig",886,1345.4,{start:true,size:18.3});
T("0.58",685.7,1369.6,{size:18});T("0.56",770,1369.6,{size:18});T("0.01",842.3,1369.6,{size:18});
B(693.7,767.7,1383.2,1390);T("ns",730.7,1397.7,{size:18});
B(693.7,836,1407.4,1414.7);T("p=0.09",763.3,1426.3,{size:18});
L(625,980,1435,"#eeeeee",1);

/* ---------- PANEL I ---------- */
T("I",600,1471,{size:25,bold:true,color:"#000"});
T("NE Signature",625,1597.4,{size:19.5,rot:true});
T("LNCaP",687.3,1482,{size:17.5});L(651.7,734.3,1494.2);
T("LNCaP",765.3,1482,{size:17.5});T("RB1",802.7,1467.5,{size:17.5});L(747,812,1494.2);
T("LNCaP",849,1482,{size:17.5});T("TP53",893.7,1467.5,{size:17.5});L(821,889,1494.2);
heat(iValues,0,4,644.7,739.3,1502.9,1693);heat(iValues,4,7,744.7,815.7,1502.9,1693);heat(iValues,7,10,821,892,1502.9,1693,{genes:iGenes,size:18.5});
sigRow(iSig,0,4,644.7,739.3,1697.8,1718);sigRow(iSig,4,7,744.7,815.7,1697.8,1718);sigRow(iSig,7,10,821,892,1697.8,1718);
T("NE Sig",901.7,1708,{start:true,size:18.3});
T("-0.31",691,1732.2,{size:18});T("-0.4",780,1732.2,{size:18});T("-0.54",856,1732.2,{size:18});
B(701,775.7,1743.8,1751);T("ns",738.3,1759.3,{size:18});
B(701,844,1768,1775.8);T("p=0.045",771,1787.5,{size:18});

/* ---------- PANEL J ---------- */
T("J",1026,810,{size:25,bold:true,color:"#000"});
T("Adult Stem Cell (ASC) Signature",1035,1236,{size:19.5,rot:true});
T("LNCaP",1093.7,820.7,{size:18});L(1054.7,1137.7,832.3);
T("LNCaP",1168.3,820.7,{size:18});T("RB1",1206,806,{size:18});L(1144.3,1209,832.3);
T("LNCaP",1249.3,820.7,{size:18});T("TP53",1294,806,{size:18});L(1215.7,1280,832.3);
heat(jValues,0,4,1054.7,1139.3,841.7,1631);heat(jValues,4,7,1144.7,1209,841.7,1631);heat(jValues,7,10,1214,1277.7,841.7,1631,{genes:jGenes,size:18.5});
sigRow(jSig,0,4,1054.7,1139.3,1636.7,1656.7);sigRow(jSig,4,7,1144.7,1209,1636.7,1656.7);sigRow(jSig,7,10,1214,1277.7,1636.7,1656.7);
T("ASC Sig",1286.7,1647,{start:true,size:18.3});
T("-0.02",1096.7,1671.3,{size:18});T("0.29",1176.7,1671.3,{size:18});T("-0.03",1246,1671.3,{size:18});
B(1107,1181.3,1683.3,1691);T("p=0.01",1144.3,1702,{size:18});
B(1107,1249.3,1711.7,1718.3);T("ns",1179.3,1727.3,{size:18});
</script></body></html>
